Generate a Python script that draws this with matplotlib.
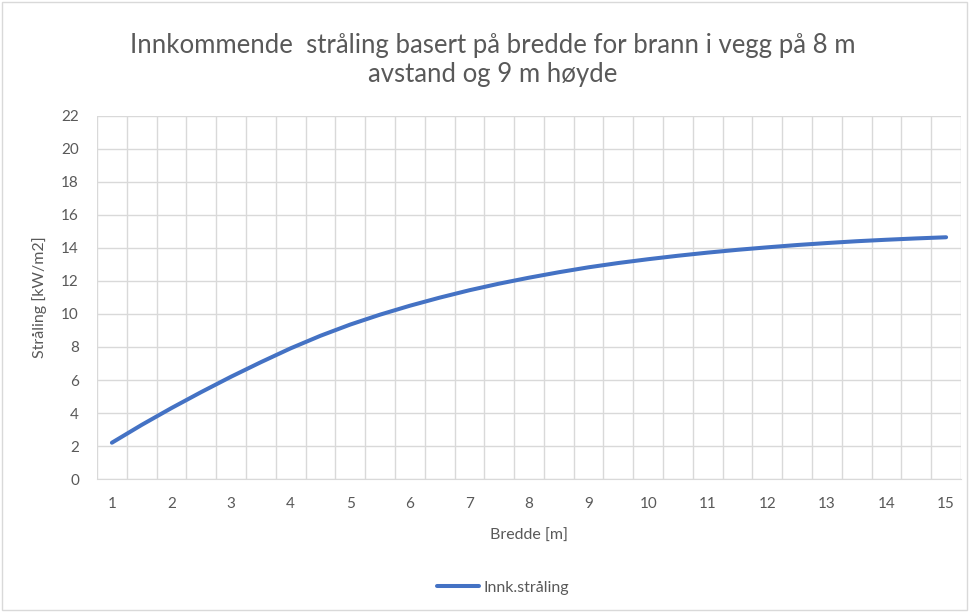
import matplotlib.pyplot as plt
from matplotlib.patches import Rectangle

# Bredde [m] i halvmeters steg, innkommende stråling [kW/m2]
bredde = [1, 1.5, 2, 2.5, 3, 3.5, 4, 4.5, 5, 5.5, 6, 6.5, 7, 7.5, 8,
          8.5, 9, 9.5, 10, 10.5, 11, 11.5, 12, 12.5, 13, 13.5, 14, 14.5, 15]
straaling = [2.2, 3.28, 4.3, 5.27, 6.2, 7.08, 7.92, 8.68, 9.36, 9.96, 10.5,
             10.99, 11.44, 11.84, 12.2, 12.53, 12.83, 13.09, 13.32, 13.53,
             13.72, 13.89, 14.04, 14.18, 14.3, 14.41, 14.5, 14.58, 14.65]
x_labels = [str(i) for i in range(1, 16)]
y_ticks = list(range(0, 23, 2))

plt.rcParams['font.family'] = ['Lato', 'DejaVu Sans']
grey = '#595959'

fig = plt.figure(figsize=(9.71, 6.12), dpi=100)
ax = fig.add_axes([0.0999, 0.2173, 0.8898, 0.5932])

ax.plot(bredde, straaling, color='#4472C4', linewidth=2.9,
        solid_capstyle='round', label='Innk.stråling')

# category style axis: gridlines between half-metre categories
ax.set_xlim(0.75, 15.25)
ax.set_ylim(0, 22)
ax.set_xticks([0.75 + 0.5 * k for k in range(30)], minor=True)
ax.set_xticks(range(1, 16))
ax.set_xticklabels(x_labels)
ax.set_yticks(y_ticks)
ax.grid(True, which='minor', axis='x', color='#D9D9D9', linewidth=1)
ax.grid(True, which='major', axis='y', color='#D9D9D9', linewidth=1)
ax.tick_params(which='both', length=0, colors=grey, labelsize=11)
ax.tick_params(axis='x', pad=13)
ax.tick_params(axis='y', pad=13)
for side in ['top', 'right', 'left']:
    ax.spines[side].set_visible(False)
ax.spines['bottom'].set_color('#D9D9D9')
ax.set_axisbelow(True)

ax.set_xlabel('Bredde [m]', color=grey, fontsize=11.5, labelpad=13)
ax.set_ylabel('Stråling [kW/m2]', color=grey, fontsize=11.5, labelpad=10)

fig.text(0.507, 0.902, 'Innkommende  stråling basert på bredde for brann i vegg på 8 m\navstand og 9 m høyde',
         ha='center', va='center', fontsize=18.5, color=grey, linespacing=1.2)

ax.legend(loc='center', bbox_to_anchor=(0.47, -0.3), frameon=False,
          fontsize=11.5, labelcolor=grey, handlelength=2.6, handletextpad=0.3)

fig.patches.append(Rectangle((0.002, 0.004), 0.994, 0.992, transform=fig.transFigure,
                             fill=False, edgecolor='#D9D9D9', linewidth=1))

fig.savefig('out.png', dpi=100)
